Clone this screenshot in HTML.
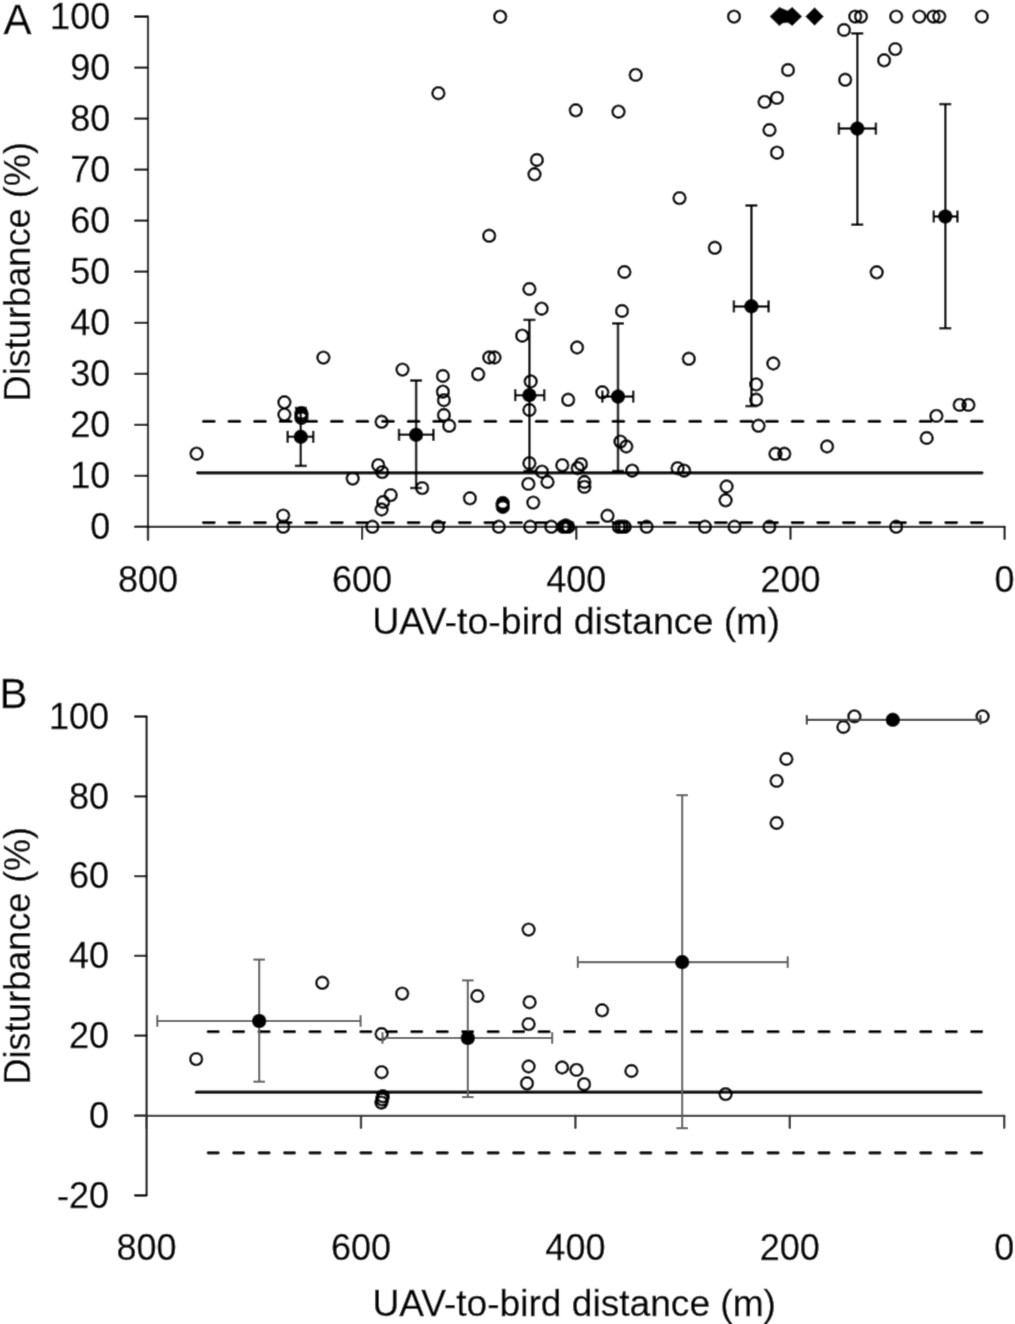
<!DOCTYPE html>
<html><head><meta charset="utf-8"><title>Chart</title>
<style>html,body{margin:0;padding:0;background:#fff;}body{width:1015px;height:1324px;overflow:hidden;font-family:"Liberation Sans",sans-serif;}svg{display:block;}</style>
</head><body>
<svg width="1015" height="1324" viewBox="0 0 1015 1324"><defs><filter id="soft" filterUnits="userSpaceOnUse" x="0" y="0" width="1015" height="1324"><feConvolveMatrix order="3" kernelMatrix="1 6 1 6 36 6 1 6 1" divisor="64" edgeMode="duplicate" preserveAlpha="false"/></filter></defs><g filter="url(#soft)"><rect x="0" y="0" width="1015" height="1324" fill="#fff"/><path d="M135,16.7 H148.0 V540" fill="none" stroke="#111" stroke-width="2.2" stroke-linecap="round" stroke-linejoin="round"/>
<line x1="135" y1="526.8" x2="148.0" y2="526.8" stroke="#111" stroke-width="2.2" stroke-linecap="round"/>
<line x1="135" y1="475.8" x2="148.0" y2="475.8" stroke="#111" stroke-width="2.2" stroke-linecap="round"/>
<line x1="135" y1="424.8" x2="148.0" y2="424.8" stroke="#111" stroke-width="2.2" stroke-linecap="round"/>
<line x1="135" y1="373.8" x2="148.0" y2="373.8" stroke="#111" stroke-width="2.2" stroke-linecap="round"/>
<line x1="135" y1="322.8" x2="148.0" y2="322.8" stroke="#111" stroke-width="2.2" stroke-linecap="round"/>
<line x1="135" y1="271.7" x2="148.0" y2="271.7" stroke="#111" stroke-width="2.2" stroke-linecap="round"/>
<line x1="135" y1="220.7" x2="148.0" y2="220.7" stroke="#111" stroke-width="2.2" stroke-linecap="round"/>
<line x1="135" y1="169.7" x2="148.0" y2="169.7" stroke="#111" stroke-width="2.2" stroke-linecap="round"/>
<line x1="135" y1="118.7" x2="148.0" y2="118.7" stroke="#111" stroke-width="2.2" stroke-linecap="round"/>
<line x1="135" y1="67.7" x2="148.0" y2="67.7" stroke="#111" stroke-width="2.2" stroke-linecap="round"/>
<line x1="135" y1="16.7" x2="148.0" y2="16.7" stroke="#111" stroke-width="2.2" stroke-linecap="round"/>
<line x1="135" y1="526.8" x2="1004.6" y2="526.8" stroke="#111" stroke-width="2.2" stroke-linecap="round"/>
<line x1="148.0" y1="526.8" x2="148.0" y2="539" stroke="#111" stroke-width="2.2" stroke-linecap="round"/>
<line x1="362.1" y1="526.8" x2="362.1" y2="539" stroke="#111" stroke-width="2.2" stroke-linecap="round"/>
<line x1="576.3" y1="526.8" x2="576.3" y2="539" stroke="#111" stroke-width="2.2" stroke-linecap="round"/>
<line x1="790.5" y1="526.8" x2="790.5" y2="539" stroke="#111" stroke-width="2.2" stroke-linecap="round"/>
<line x1="1004.6" y1="526.8" x2="1004.6" y2="539" stroke="#111" stroke-width="2.2" stroke-linecap="round"/>
<line x1="197.5" y1="472.85" x2="982" y2="472.85" stroke="#000" stroke-width="3.2" stroke-linecap="round"/>
<line x1="203.4" y1="421.3" x2="983" y2="421.3" stroke="#000" stroke-width="3.2" stroke-linecap="round" stroke-dasharray="10.8 14.8" />
<line x1="203.4" y1="522.6" x2="983" y2="522.6" stroke="#000" stroke-width="3.2" stroke-linecap="round" stroke-dasharray="10.8 14.8" />
<circle cx="500.2" cy="16.7" r="5.9" fill="none" stroke="#000" stroke-width="2.6"/>
<circle cx="734" cy="16.6" r="5.9" fill="none" stroke="#000" stroke-width="2.6"/>
<circle cx="855.2" cy="16.6" r="5.9" fill="none" stroke="#000" stroke-width="2.6"/>
<circle cx="861.0" cy="16.6" r="5.9" fill="none" stroke="#000" stroke-width="2.6"/>
<circle cx="896.2" cy="16.6" r="5.9" fill="none" stroke="#000" stroke-width="2.6"/>
<circle cx="919.4" cy="16.6" r="5.9" fill="none" stroke="#000" stroke-width="2.6"/>
<circle cx="933.4" cy="16.6" r="5.9" fill="none" stroke="#000" stroke-width="2.6"/>
<circle cx="939.3" cy="16.6" r="5.9" fill="none" stroke="#000" stroke-width="2.6"/>
<circle cx="981.8" cy="16.6" r="5.9" fill="none" stroke="#000" stroke-width="2.6"/>
<circle cx="844" cy="30" r="5.9" fill="none" stroke="#000" stroke-width="2.6"/>
<circle cx="895.3" cy="49.1" r="5.9" fill="none" stroke="#000" stroke-width="2.6"/>
<circle cx="884.1" cy="60.3" r="5.9" fill="none" stroke="#000" stroke-width="2.6"/>
<circle cx="788" cy="70" r="5.9" fill="none" stroke="#000" stroke-width="2.6"/>
<circle cx="845.2" cy="79.8" r="5.9" fill="none" stroke="#000" stroke-width="2.6"/>
<circle cx="635.7" cy="74.9" r="5.9" fill="none" stroke="#000" stroke-width="2.6"/>
<circle cx="438.4" cy="93.2" r="5.9" fill="none" stroke="#000" stroke-width="2.6"/>
<circle cx="575.8" cy="110.3" r="5.9" fill="none" stroke="#000" stroke-width="2.6"/>
<circle cx="618.5" cy="111.7" r="5.9" fill="none" stroke="#000" stroke-width="2.6"/>
<circle cx="777" cy="97.9" r="5.9" fill="none" stroke="#000" stroke-width="2.6"/>
<circle cx="764.6" cy="101.9" r="5.9" fill="none" stroke="#000" stroke-width="2.6"/>
<circle cx="769.5" cy="130" r="5.9" fill="none" stroke="#000" stroke-width="2.6"/>
<circle cx="777" cy="152.7" r="5.9" fill="none" stroke="#000" stroke-width="2.6"/>
<circle cx="536.9" cy="160" r="5.9" fill="none" stroke="#000" stroke-width="2.6"/>
<circle cx="534.5" cy="174.3" r="5.9" fill="none" stroke="#000" stroke-width="2.6"/>
<circle cx="679.5" cy="198.1" r="5.9" fill="none" stroke="#000" stroke-width="2.6"/>
<circle cx="489.2" cy="235.8" r="5.9" fill="none" stroke="#000" stroke-width="2.6"/>
<circle cx="714.8" cy="247.8" r="5.9" fill="none" stroke="#000" stroke-width="2.6"/>
<circle cx="624.4" cy="272" r="5.9" fill="none" stroke="#000" stroke-width="2.6"/>
<circle cx="876.7" cy="272.3" r="5.9" fill="none" stroke="#000" stroke-width="2.6"/>
<circle cx="529.4" cy="289" r="5.9" fill="none" stroke="#000" stroke-width="2.6"/>
<circle cx="541.6" cy="308.7" r="5.9" fill="none" stroke="#000" stroke-width="2.6"/>
<circle cx="622" cy="311" r="5.9" fill="none" stroke="#000" stroke-width="2.6"/>
<circle cx="522.2" cy="335.7" r="5.9" fill="none" stroke="#000" stroke-width="2.6"/>
<circle cx="577.1" cy="347.5" r="5.9" fill="none" stroke="#000" stroke-width="2.6"/>
<circle cx="489.2" cy="357.5" r="5.9" fill="none" stroke="#000" stroke-width="2.6"/>
<circle cx="494.5" cy="357.5" r="5.9" fill="none" stroke="#000" stroke-width="2.6"/>
<circle cx="323.4" cy="357.6" r="5.9" fill="none" stroke="#000" stroke-width="2.6"/>
<circle cx="688.8" cy="358.8" r="5.9" fill="none" stroke="#000" stroke-width="2.6"/>
<circle cx="773.3" cy="363.5" r="5.9" fill="none" stroke="#000" stroke-width="2.6"/>
<circle cx="402.5" cy="369.6" r="5.9" fill="none" stroke="#000" stroke-width="2.6"/>
<circle cx="442.9" cy="376.0" r="5.9" fill="none" stroke="#000" stroke-width="2.6"/>
<circle cx="478.2" cy="374.3" r="5.9" fill="none" stroke="#000" stroke-width="2.6"/>
<circle cx="530.7" cy="381.4" r="5.9" fill="none" stroke="#000" stroke-width="2.6"/>
<circle cx="756.2" cy="384.4" r="5.9" fill="none" stroke="#000" stroke-width="2.6"/>
<circle cx="442.9" cy="391.7" r="5.9" fill="none" stroke="#000" stroke-width="2.6"/>
<circle cx="602.3" cy="392.3" r="5.9" fill="none" stroke="#000" stroke-width="2.6"/>
<circle cx="443.9" cy="400.2" r="5.9" fill="none" stroke="#000" stroke-width="2.6"/>
<circle cx="568.2" cy="399.8" r="5.9" fill="none" stroke="#000" stroke-width="2.6"/>
<circle cx="756.2" cy="399.8" r="5.9" fill="none" stroke="#000" stroke-width="2.6"/>
<circle cx="284.4" cy="402.3" r="5.9" fill="none" stroke="#000" stroke-width="2.6"/>
<circle cx="959.7" cy="404.9" r="5.9" fill="none" stroke="#000" stroke-width="2.6"/>
<circle cx="968.4" cy="404.9" r="5.9" fill="none" stroke="#000" stroke-width="2.6"/>
<circle cx="529.4" cy="410" r="5.9" fill="none" stroke="#000" stroke-width="2.6"/>
<circle cx="284.4" cy="414.6" r="5.9" fill="none" stroke="#000" stroke-width="2.6"/>
<circle cx="301.4" cy="413" r="5.9" fill="none" stroke="#000" stroke-width="2.6"/>
<circle cx="301.4" cy="415.5" r="5.9" fill="none" stroke="#000" stroke-width="2.6"/>
<circle cx="301.4" cy="418" r="5.9" fill="none" stroke="#000" stroke-width="2.6"/>
<circle cx="443.9" cy="415" r="5.9" fill="none" stroke="#000" stroke-width="2.6"/>
<circle cx="936.4" cy="415.9" r="5.9" fill="none" stroke="#000" stroke-width="2.6"/>
<circle cx="381.6" cy="421.8" r="5.9" fill="none" stroke="#000" stroke-width="2.6"/>
<circle cx="449.2" cy="425.8" r="5.9" fill="none" stroke="#000" stroke-width="2.6"/>
<circle cx="758.5" cy="425.8" r="5.9" fill="none" stroke="#000" stroke-width="2.6"/>
<circle cx="926.7" cy="438" r="5.9" fill="none" stroke="#000" stroke-width="2.6"/>
<circle cx="620.4" cy="441.6" r="5.9" fill="none" stroke="#000" stroke-width="2.6"/>
<circle cx="626.3" cy="446.5" r="5.9" fill="none" stroke="#000" stroke-width="2.6"/>
<circle cx="827.1" cy="446.5" r="5.9" fill="none" stroke="#000" stroke-width="2.6"/>
<circle cx="196.6" cy="453.7" r="5.9" fill="none" stroke="#000" stroke-width="2.6"/>
<circle cx="775.5" cy="453.8" r="5.9" fill="none" stroke="#000" stroke-width="2.6"/>
<circle cx="784.3" cy="453.8" r="5.9" fill="none" stroke="#000" stroke-width="2.6"/>
<circle cx="529.4" cy="463.2" r="5.9" fill="none" stroke="#000" stroke-width="2.6"/>
<circle cx="378.3" cy="465.2" r="5.9" fill="none" stroke="#000" stroke-width="2.6"/>
<circle cx="562.3" cy="465.2" r="5.9" fill="none" stroke="#000" stroke-width="2.6"/>
<circle cx="581" cy="464.2" r="5.9" fill="none" stroke="#000" stroke-width="2.6"/>
<circle cx="577.7" cy="468.2" r="5.9" fill="none" stroke="#000" stroke-width="2.6"/>
<circle cx="677.6" cy="468.2" r="5.9" fill="none" stroke="#000" stroke-width="2.6"/>
<circle cx="684.1" cy="470.7" r="5.9" fill="none" stroke="#000" stroke-width="2.6"/>
<circle cx="632.2" cy="470.7" r="5.9" fill="none" stroke="#000" stroke-width="2.6"/>
<circle cx="542" cy="471.7" r="5.9" fill="none" stroke="#000" stroke-width="2.6"/>
<circle cx="382.2" cy="472.1" r="5.9" fill="none" stroke="#000" stroke-width="2.6"/>
<circle cx="352.7" cy="478.6" r="5.9" fill="none" stroke="#000" stroke-width="2.6"/>
<circle cx="547.5" cy="482" r="5.9" fill="none" stroke="#000" stroke-width="2.6"/>
<circle cx="528.4" cy="483.9" r="5.9" fill="none" stroke="#000" stroke-width="2.6"/>
<circle cx="584.4" cy="482" r="5.9" fill="none" stroke="#000" stroke-width="2.6"/>
<circle cx="584.4" cy="486.9" r="5.9" fill="none" stroke="#000" stroke-width="2.6"/>
<circle cx="726.6" cy="486.5" r="5.9" fill="none" stroke="#000" stroke-width="2.6"/>
<circle cx="422.2" cy="488.1" r="5.9" fill="none" stroke="#000" stroke-width="2.6"/>
<circle cx="390.7" cy="495.1" r="5.9" fill="none" stroke="#000" stroke-width="2.6"/>
<circle cx="469.9" cy="498.3" r="5.9" fill="none" stroke="#000" stroke-width="2.6"/>
<circle cx="725.6" cy="500.3" r="5.9" fill="none" stroke="#000" stroke-width="2.6"/>
<circle cx="383.2" cy="502" r="5.9" fill="none" stroke="#000" stroke-width="2.6"/>
<circle cx="502.8" cy="503" r="5.9" fill="none" stroke="#000" stroke-width="2.6"/>
<circle cx="502.8" cy="504.3" r="5.9" fill="none" stroke="#000" stroke-width="2.6"/>
<circle cx="502.8" cy="505.6" r="5.9" fill="none" stroke="#000" stroke-width="2.6"/>
<circle cx="502.8" cy="507" r="5.9" fill="none" stroke="#000" stroke-width="2.6"/>
<circle cx="533.3" cy="502.6" r="5.9" fill="none" stroke="#000" stroke-width="2.6"/>
<circle cx="381.6" cy="509.5" r="5.9" fill="none" stroke="#000" stroke-width="2.6"/>
<circle cx="283.2" cy="515.6" r="5.9" fill="none" stroke="#000" stroke-width="2.6"/>
<circle cx="607.5" cy="515.8" r="5.9" fill="none" stroke="#000" stroke-width="2.6"/>
<circle cx="283.2" cy="526.8" r="5.9" fill="none" stroke="#000" stroke-width="2.6"/>
<circle cx="372.4" cy="526.8" r="5.9" fill="none" stroke="#000" stroke-width="2.6"/>
<circle cx="438" cy="526.8" r="5.9" fill="none" stroke="#000" stroke-width="2.6"/>
<circle cx="498.8" cy="526.8" r="5.9" fill="none" stroke="#000" stroke-width="2.6"/>
<circle cx="530.2" cy="526.8" r="5.9" fill="none" stroke="#000" stroke-width="2.6"/>
<circle cx="551.3" cy="526.8" r="5.9" fill="none" stroke="#000" stroke-width="2.6"/>
<circle cx="563.2" cy="526.8" r="5.9" fill="none" stroke="#000" stroke-width="2.6"/>
<circle cx="565.7" cy="525.5" r="5.9" fill="none" stroke="#000" stroke-width="2.6"/>
<circle cx="565.5" cy="526.8" r="5.9" fill="none" stroke="#000" stroke-width="2.6"/>
<circle cx="568.2" cy="526.8" r="5.9" fill="none" stroke="#000" stroke-width="2.6"/>
<circle cx="618.8" cy="526.8" r="5.9" fill="none" stroke="#000" stroke-width="2.6"/>
<circle cx="621.8" cy="526.8" r="5.9" fill="none" stroke="#000" stroke-width="2.6"/>
<circle cx="624.7" cy="526.8" r="5.9" fill="none" stroke="#000" stroke-width="2.6"/>
<circle cx="646.6" cy="526.8" r="5.9" fill="none" stroke="#000" stroke-width="2.6"/>
<circle cx="704.9" cy="526.8" r="5.9" fill="none" stroke="#000" stroke-width="2.6"/>
<circle cx="734.5" cy="526.8" r="5.9" fill="none" stroke="#000" stroke-width="2.6"/>
<circle cx="769.4" cy="526.8" r="5.9" fill="none" stroke="#000" stroke-width="2.6"/>
<circle cx="896.2" cy="526.8" r="5.9" fill="none" stroke="#000" stroke-width="2.6"/>
<line x1="300.8" y1="408.0" x2="300.8" y2="465.9" stroke="#000" stroke-width="2.5"/><line x1="294.8" y1="408.0" x2="306.8" y2="408.0" stroke="#000" stroke-width="2.5"/><line x1="294.8" y1="465.9" x2="306.8" y2="465.9" stroke="#000" stroke-width="2.5"/><line x1="287.7" y1="436.8" x2="313.2" y2="436.8" stroke="#000" stroke-width="2.5"/><line x1="287.7" y1="430.8" x2="287.7" y2="442.8" stroke="#000" stroke-width="2.5"/><line x1="313.2" y1="430.8" x2="313.2" y2="442.8" stroke="#000" stroke-width="2.5"/>
<circle cx="300.8" cy="436.8" r="7.3" fill="#000"/>
<line x1="416.1" y1="380.5" x2="416.1" y2="488.0" stroke="#000" stroke-width="2.5"/><line x1="410.1" y1="380.5" x2="422.1" y2="380.5" stroke="#000" stroke-width="2.5"/><line x1="410.1" y1="488.0" x2="422.1" y2="488.0" stroke="#000" stroke-width="2.5"/><line x1="399.0" y1="434.8" x2="433.4" y2="434.8" stroke="#000" stroke-width="2.5"/><line x1="399.0" y1="428.8" x2="399.0" y2="440.8" stroke="#000" stroke-width="2.5"/><line x1="433.4" y1="428.8" x2="433.4" y2="440.8" stroke="#000" stroke-width="2.5"/>
<circle cx="416.1" cy="434.8" r="7.3" fill="#000"/>
<line x1="529.4" y1="319.9" x2="529.4" y2="471.0" stroke="#000" stroke-width="2.5"/><line x1="523.4" y1="319.9" x2="535.4" y2="319.9" stroke="#000" stroke-width="2.5"/><line x1="523.4" y1="471.0" x2="535.4" y2="471.0" stroke="#000" stroke-width="2.5"/><line x1="515.2" y1="395.2" x2="544.2" y2="395.2" stroke="#000" stroke-width="2.5"/><line x1="515.2" y1="389.2" x2="515.2" y2="401.2" stroke="#000" stroke-width="2.5"/><line x1="544.2" y1="389.2" x2="544.2" y2="401.2" stroke="#000" stroke-width="2.5"/>
<circle cx="529.4" cy="395.2" r="7.3" fill="#000"/>
<line x1="618.0" y1="323.4" x2="618.0" y2="471.0" stroke="#000" stroke-width="2.5"/><line x1="612.0" y1="323.4" x2="624.0" y2="323.4" stroke="#000" stroke-width="2.5"/><line x1="612.0" y1="471.0" x2="624.0" y2="471.0" stroke="#000" stroke-width="2.5"/><line x1="602.3" y1="396.6" x2="633.2" y2="396.6" stroke="#000" stroke-width="2.5"/><line x1="602.3" y1="390.6" x2="602.3" y2="402.6" stroke="#000" stroke-width="2.5"/><line x1="633.2" y1="390.6" x2="633.2" y2="402.6" stroke="#000" stroke-width="2.5"/>
<circle cx="618.0" cy="396.6" r="7.3" fill="#000"/>
<line x1="751.4" y1="205.5" x2="751.4" y2="406.1" stroke="#000" stroke-width="2.5"/><line x1="745.4" y1="205.5" x2="757.4" y2="205.5" stroke="#000" stroke-width="2.5"/><line x1="745.4" y1="406.1" x2="757.4" y2="406.1" stroke="#000" stroke-width="2.5"/><line x1="733.9" y1="306.4" x2="768.6" y2="306.4" stroke="#000" stroke-width="2.5"/><line x1="733.9" y1="300.4" x2="733.9" y2="312.4" stroke="#000" stroke-width="2.5"/><line x1="768.6" y1="300.4" x2="768.6" y2="312.4" stroke="#000" stroke-width="2.5"/>
<circle cx="751.4" cy="306.4" r="7.3" fill="#000"/>
<line x1="857.3" y1="33.4" x2="857.3" y2="224.7" stroke="#000" stroke-width="2.5"/><line x1="851.3" y1="33.4" x2="863.3" y2="33.4" stroke="#000" stroke-width="2.5"/><line x1="851.3" y1="224.7" x2="863.3" y2="224.7" stroke="#000" stroke-width="2.5"/><line x1="838.9" y1="128.6" x2="875.9" y2="128.6" stroke="#000" stroke-width="2.5"/><line x1="838.9" y1="122.6" x2="838.9" y2="134.6" stroke="#000" stroke-width="2.5"/><line x1="875.9" y1="122.6" x2="875.9" y2="134.6" stroke="#000" stroke-width="2.5"/>
<circle cx="857.3" cy="128.6" r="7.3" fill="#000"/>
<line x1="945.3" y1="104.1" x2="945.3" y2="328.2" stroke="#000" stroke-width="2.5"/><line x1="939.3" y1="104.1" x2="951.3" y2="104.1" stroke="#000" stroke-width="2.5"/><line x1="939.3" y1="328.2" x2="951.3" y2="328.2" stroke="#000" stroke-width="2.5"/><line x1="933.8" y1="216.5" x2="957.4" y2="216.5" stroke="#000" stroke-width="2.5"/><line x1="933.8" y1="210.5" x2="933.8" y2="222.5" stroke="#000" stroke-width="2.5"/><line x1="957.4" y1="210.5" x2="957.4" y2="222.5" stroke="#000" stroke-width="2.5"/>
<circle cx="945.3" cy="216.5" r="7.3" fill="#000"/>
<polygon points="805.3000000000001,16.5 814.6,7.199999999999999 823.9,16.5 814.6,25.8" fill="#000"/>
<polygon points="769.9,16.5 779.3,7.3 783.6,9.2 787.6,10.8 792.3,7.3 801.9,16.5 792.3,25.7 788,22.6 783,22.9 779.3,25.7" fill="#000" stroke="#000" stroke-width="0.6" stroke-linejoin="round"/>
<text x="110.2" y="539.1" text-anchor="end" font-size="36" font-family="Liberation Sans, sans-serif" stroke="#000" stroke-width="0.3">0</text>
<text x="110.2" y="488.1" text-anchor="end" font-size="36" font-family="Liberation Sans, sans-serif" stroke="#000" stroke-width="0.3">10</text>
<text x="110.2" y="437.1" text-anchor="end" font-size="36" font-family="Liberation Sans, sans-serif" stroke="#000" stroke-width="0.3">20</text>
<text x="110.2" y="386.1" text-anchor="end" font-size="36" font-family="Liberation Sans, sans-serif" stroke="#000" stroke-width="0.3">30</text>
<text x="110.2" y="335.1" text-anchor="end" font-size="36" font-family="Liberation Sans, sans-serif" stroke="#000" stroke-width="0.3">40</text>
<text x="110.2" y="284.0" text-anchor="end" font-size="36" font-family="Liberation Sans, sans-serif" stroke="#000" stroke-width="0.3">50</text>
<text x="110.2" y="233.0" text-anchor="end" font-size="36" font-family="Liberation Sans, sans-serif" stroke="#000" stroke-width="0.3">60</text>
<text x="110.2" y="182.0" text-anchor="end" font-size="36" font-family="Liberation Sans, sans-serif" stroke="#000" stroke-width="0.3">70</text>
<text x="110.2" y="131.0" text-anchor="end" font-size="36" font-family="Liberation Sans, sans-serif" stroke="#000" stroke-width="0.3">80</text>
<text x="110.2" y="80.0" text-anchor="end" font-size="36" font-family="Liberation Sans, sans-serif" stroke="#000" stroke-width="0.3">90</text>
<text x="110.2" y="29.0" text-anchor="end" font-size="36" font-family="Liberation Sans, sans-serif" stroke="#000" stroke-width="0.3">100</text>
<text x="148.0" y="592" text-anchor="middle" font-size="36" font-family="Liberation Sans, sans-serif" stroke="#000" stroke-width="0.3">800</text>
<text x="362.1" y="592" text-anchor="middle" font-size="36" font-family="Liberation Sans, sans-serif" stroke="#000" stroke-width="0.3">600</text>
<text x="576.3" y="592" text-anchor="middle" font-size="36" font-family="Liberation Sans, sans-serif" stroke="#000" stroke-width="0.3">400</text>
<text x="790.5" y="592" text-anchor="middle" font-size="36" font-family="Liberation Sans, sans-serif" stroke="#000" stroke-width="0.3">200</text>
<text x="1004.6" y="592" text-anchor="middle" font-size="36" font-family="Liberation Sans, sans-serif" stroke="#000" stroke-width="0.3">0</text>
<text x="372.3" y="633.5" font-size="36" font-family="Liberation Sans, sans-serif" stroke="#000" stroke-width="0.3" textLength="407.7" lengthAdjust="spacingAndGlyphs">UAV-to-bird distance (m)</text>
<text transform="translate(29.5,401.5) rotate(-90)" font-size="36" font-family="Liberation Sans, sans-serif" stroke="#000" stroke-width="0.3" textLength="259.5" lengthAdjust="spacingAndGlyphs">Disturbance (%)</text>
<text x="3.4" y="34" font-size="42" font-family="Liberation Sans, sans-serif" stroke="#000" stroke-width="0.3">A</text>
<path d="M135,716.5 H146.6 V1195.3 H135" fill="none" stroke="#111" stroke-width="2.2" stroke-linecap="round" stroke-linejoin="round"/>
<line x1="135" y1="1195.3" x2="146.6" y2="1195.3" stroke="#111" stroke-width="2.2" stroke-linecap="round"/>
<line x1="135" y1="1115.5" x2="146.6" y2="1115.5" stroke="#111" stroke-width="2.2" stroke-linecap="round"/>
<line x1="135" y1="1035.7" x2="146.6" y2="1035.7" stroke="#111" stroke-width="2.2" stroke-linecap="round"/>
<line x1="135" y1="955.9" x2="146.6" y2="955.9" stroke="#111" stroke-width="2.2" stroke-linecap="round"/>
<line x1="135" y1="876.1" x2="146.6" y2="876.1" stroke="#111" stroke-width="2.2" stroke-linecap="round"/>
<line x1="135" y1="796.3" x2="146.6" y2="796.3" stroke="#111" stroke-width="2.2" stroke-linecap="round"/>
<line x1="135" y1="716.5" x2="146.6" y2="716.5" stroke="#111" stroke-width="2.2" stroke-linecap="round"/>
<line x1="135" y1="1115.9" x2="1004.2" y2="1115.9" stroke="#333" stroke-width="2.4" stroke-linecap="round"/>
<line x1="146.6" y1="1115.9" x2="146.6" y2="1127.8" stroke="#333" stroke-width="2.4" stroke-linecap="round"/>
<line x1="361.0" y1="1115.9" x2="361.0" y2="1127.8" stroke="#333" stroke-width="2.4" stroke-linecap="round"/>
<line x1="575.4" y1="1115.9" x2="575.4" y2="1127.8" stroke="#333" stroke-width="2.4" stroke-linecap="round"/>
<line x1="789.8" y1="1115.9" x2="789.8" y2="1127.8" stroke="#333" stroke-width="2.4" stroke-linecap="round"/>
<line x1="1004.2" y1="1115.9" x2="1004.2" y2="1127.8" stroke="#333" stroke-width="2.4" stroke-linecap="round"/>
<line x1="196.4" y1="1092.2" x2="981" y2="1092.2" stroke="#000" stroke-width="3.2" stroke-linecap="round"/>
<line x1="208.2" y1="1031.7" x2="983" y2="1031.7" stroke="#000" stroke-width="3.2" stroke-linecap="round" stroke-dasharray="10 15.45" />
<line x1="208.2" y1="1152.8" x2="983" y2="1152.8" stroke="#000" stroke-width="3.2" stroke-linecap="round" stroke-dasharray="10 15.45" />
<circle cx="196.2" cy="1059.1" r="5.9" fill="none" stroke="#000" stroke-width="2.6"/>
<circle cx="322.3" cy="982.8" r="5.9" fill="none" stroke="#000" stroke-width="2.6"/>
<circle cx="402.2" cy="993.6" r="5.9" fill="none" stroke="#000" stroke-width="2.6"/>
<circle cx="477.4" cy="996" r="5.9" fill="none" stroke="#000" stroke-width="2.6"/>
<circle cx="381.6" cy="1034" r="5.9" fill="none" stroke="#000" stroke-width="2.6"/>
<circle cx="381.6" cy="1072.2" r="5.9" fill="none" stroke="#000" stroke-width="2.6"/>
<circle cx="382.8" cy="1096.2" r="5.9" fill="none" stroke="#000" stroke-width="2.6"/>
<circle cx="382.2" cy="1099.4" r="5.9" fill="none" stroke="#000" stroke-width="2.6"/>
<circle cx="381.4" cy="1102.6" r="5.9" fill="none" stroke="#000" stroke-width="2.6"/>
<circle cx="528.6" cy="929.6" r="5.9" fill="none" stroke="#000" stroke-width="2.6"/>
<circle cx="529.6" cy="1002.2" r="5.9" fill="none" stroke="#000" stroke-width="2.6"/>
<circle cx="528.6" cy="1024.1" r="5.9" fill="none" stroke="#000" stroke-width="2.6"/>
<circle cx="602.1" cy="1010.3" r="5.9" fill="none" stroke="#000" stroke-width="2.6"/>
<circle cx="528.6" cy="1066.5" r="5.9" fill="none" stroke="#000" stroke-width="2.6"/>
<circle cx="527" cy="1083.3" r="5.9" fill="none" stroke="#000" stroke-width="2.6"/>
<circle cx="562.1" cy="1067.5" r="5.9" fill="none" stroke="#000" stroke-width="2.6"/>
<circle cx="576.5" cy="1069.9" r="5.9" fill="none" stroke="#000" stroke-width="2.6"/>
<circle cx="584.1" cy="1084.2" r="5.9" fill="none" stroke="#000" stroke-width="2.6"/>
<circle cx="631.4" cy="1071" r="5.9" fill="none" stroke="#000" stroke-width="2.6"/>
<circle cx="725.6" cy="1094.1" r="5.9" fill="none" stroke="#000" stroke-width="2.6"/>
<circle cx="786.4" cy="759" r="5.9" fill="none" stroke="#000" stroke-width="2.6"/>
<circle cx="776.6" cy="780.9" r="5.9" fill="none" stroke="#000" stroke-width="2.6"/>
<circle cx="776.6" cy="823" r="5.9" fill="none" stroke="#000" stroke-width="2.6"/>
<circle cx="854.4" cy="716.4" r="5.9" fill="none" stroke="#000" stroke-width="2.6"/>
<circle cx="843.4" cy="727" r="5.9" fill="none" stroke="#000" stroke-width="2.6"/>
<circle cx="982.6" cy="716.4" r="5.9" fill="none" stroke="#000" stroke-width="2.6"/>
<line x1="259.2" y1="959.6" x2="259.2" y2="1081.7" stroke="#606060" stroke-width="2.1"/><line x1="253.39999999999998" y1="959.6" x2="265.0" y2="959.6" stroke="#606060" stroke-width="2.1"/><line x1="253.39999999999998" y1="1081.7" x2="265.0" y2="1081.7" stroke="#606060" stroke-width="2.1"/><line x1="157.3" y1="1021.0" x2="360.6" y2="1021.0" stroke="#606060" stroke-width="2.1"/><line x1="157.3" y1="1015.2" x2="157.3" y2="1026.8" stroke="#606060" stroke-width="2.1"/><line x1="360.6" y1="1015.2" x2="360.6" y2="1026.8" stroke="#606060" stroke-width="2.1"/>
<circle cx="259.2" cy="1021.0" r="7.3" fill="#000"/>
<line x1="467.8" y1="980.4" x2="467.8" y2="1097.1" stroke="#606060" stroke-width="2.1"/><line x1="462.0" y1="980.4" x2="473.6" y2="980.4" stroke="#606060" stroke-width="2.1"/><line x1="462.0" y1="1097.1" x2="473.6" y2="1097.1" stroke="#606060" stroke-width="2.1"/><line x1="382.5" y1="1038.0" x2="552.2" y2="1038.0" stroke="#606060" stroke-width="2.1"/><line x1="382.5" y1="1032.2" x2="382.5" y2="1043.8" stroke="#606060" stroke-width="2.1"/><line x1="552.2" y1="1032.2" x2="552.2" y2="1043.8" stroke="#606060" stroke-width="2.1"/>
<circle cx="467.8" cy="1038.0" r="7.3" fill="#000"/>
<line x1="682.2" y1="795.2" x2="682.2" y2="1128.2" stroke="#606060" stroke-width="2.1"/><line x1="676.4000000000001" y1="795.2" x2="688.0" y2="795.2" stroke="#606060" stroke-width="2.1"/><line x1="676.4000000000001" y1="1128.2" x2="688.0" y2="1128.2" stroke="#606060" stroke-width="2.1"/><line x1="577.8" y1="962.1" x2="787.7" y2="962.1" stroke="#606060" stroke-width="2.1"/><line x1="577.8" y1="956.3000000000001" x2="577.8" y2="967.9" stroke="#606060" stroke-width="2.1"/><line x1="787.7" y1="956.3000000000001" x2="787.7" y2="967.9" stroke="#606060" stroke-width="2.1"/>
<circle cx="682.2" cy="962.1" r="7.3" fill="#000"/>
<line x1="806.8" y1="719.8" x2="980.5" y2="719.8" stroke="#404040" stroke-width="2.2"/><line x1="806.8" y1="715.0" x2="806.8" y2="724.5999999999999" stroke="#404040" stroke-width="2.2"/><line x1="980.5" y1="715.0" x2="980.5" y2="724.5999999999999" stroke="#404040" stroke-width="2.2"/>
<circle cx="892.8" cy="719.8" r="7.3" fill="#000"/>
<text x="109" y="1207.6" text-anchor="end" font-size="36" font-family="Liberation Sans, sans-serif" stroke="#000" stroke-width="0.3">-20</text>
<text x="109" y="1127.8" text-anchor="end" font-size="36" font-family="Liberation Sans, sans-serif" stroke="#000" stroke-width="0.3">0</text>
<text x="109" y="1048.0" text-anchor="end" font-size="36" font-family="Liberation Sans, sans-serif" stroke="#000" stroke-width="0.3">20</text>
<text x="109" y="968.2" text-anchor="end" font-size="36" font-family="Liberation Sans, sans-serif" stroke="#000" stroke-width="0.3">40</text>
<text x="109" y="888.4" text-anchor="end" font-size="36" font-family="Liberation Sans, sans-serif" stroke="#000" stroke-width="0.3">60</text>
<text x="109" y="808.6" text-anchor="end" font-size="36" font-family="Liberation Sans, sans-serif" stroke="#000" stroke-width="0.3">80</text>
<text x="109" y="728.8" text-anchor="end" font-size="36" font-family="Liberation Sans, sans-serif" stroke="#000" stroke-width="0.3">100</text>
<text x="146.6" y="1260.3" text-anchor="middle" font-size="36" font-family="Liberation Sans, sans-serif" stroke="#000" stroke-width="0.3">800</text>
<text x="361.0" y="1260.3" text-anchor="middle" font-size="36" font-family="Liberation Sans, sans-serif" stroke="#000" stroke-width="0.3">600</text>
<text x="575.4" y="1260.3" text-anchor="middle" font-size="36" font-family="Liberation Sans, sans-serif" stroke="#000" stroke-width="0.3">400</text>
<text x="789.8" y="1260.3" text-anchor="middle" font-size="36" font-family="Liberation Sans, sans-serif" stroke="#000" stroke-width="0.3">200</text>
<text x="1004.2" y="1260.3" text-anchor="middle" font-size="36" font-family="Liberation Sans, sans-serif" stroke="#000" stroke-width="0.3">0</text>
<text x="372.4" y="1316.2" font-size="36" font-family="Liberation Sans, sans-serif" stroke="#000" stroke-width="0.3" textLength="403.6" lengthAdjust="spacingAndGlyphs">UAV-to-bird distance (m)</text>
<text transform="translate(29.5,1084.5) rotate(-90)" font-size="36" font-family="Liberation Sans, sans-serif" stroke="#000" stroke-width="0.3" textLength="257.5" lengthAdjust="spacingAndGlyphs">Disturbance (%)</text>
<text x="-0.6" y="708" font-size="42" font-family="Liberation Sans, sans-serif" stroke="#000" stroke-width="0.3">B</text></g></svg>
</body></html>
